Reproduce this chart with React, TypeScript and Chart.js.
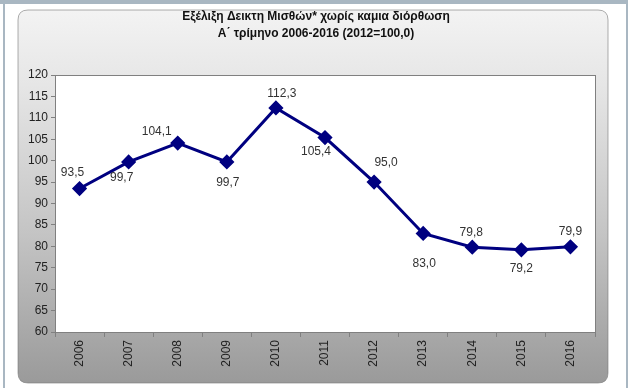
import React, { useEffect, useRef } from "react";
import { Chart, registerables } from "chart.js";

Chart.register(...registerables);

const TITLE_LINES = [
  "Εξέλιξη Δεικτη Μισθών* χωρίς καμια διόρθωση",
  "Α΄ τρίμηνο 2006-2016 (2012=100,0)",
];
const YEARS = ["2006", "2007", "2008", "2009", "2010", "2011", "2012", "2013", "2014", "2015", "2016"];
const WAGE_INDEX = [93.5, 99.7, 104.1, 99.7, 112.3, 105.4, 95.0, 83.0, 79.8, 79.2, 79.9];
const Y_MIN = 60;
const Y_MAX = 120;
const Y_STEP = 5;

// label placement offsets (style only)
const LABEL_OFFSETS: [number, number][] = [
  [-7, -16], [-7, 16], [-21, -11], [1, 21], [6, -14], [-9, 14],
  [12, -19], [1, 30], [-1, -15], [0, 19], [0, -15],
];

const FONT = "'Liberation Sans', Arial, sans-serif";

const backgroundPlugin = {
  id: "bgPlugin",
  beforeDraw(chart: any) {
    const ctx = chart.ctx;
    const W = chart.width;
    const H = chart.height;
    ctx.save();
    ctx.fillStyle = "#ffffff";
    ctx.fillRect(0, 0, W, H);
    // outer frame
    ctx.fillStyle = "#a9b7c2";
    ctx.fillRect(0, 0, 628, 4);
    ctx.fillRect(3, 0, 2, H);
    ctx.fillRect(626, 0, 2, H);
    // rounded panel
    const x0 = 18, y0 = 10, x1 = 608, y1 = 383, r = 10;
    const g = ctx.createLinearGradient(0, y0, 0, y1);
    g.addColorStop(0, "#f3f3f3");
    g.addColorStop(0.2, "#e6e6e6");
    g.addColorStop(0.6, "#c4c4c4");
    g.addColorStop(1, "#9a9a9a");
    ctx.beginPath();
    ctx.moveTo(x0 + r, y0);
    ctx.lineTo(x1 - r, y0);
    ctx.quadraticCurveTo(x1, y0, x1, y0 + r);
    ctx.lineTo(x1, y1 - r);
    ctx.quadraticCurveTo(x1, y1, x1 - r, y1);
    ctx.lineTo(x0 + r, y1);
    ctx.quadraticCurveTo(x0, y1, x0, y1 - r);
    ctx.lineTo(x0, y0 + r);
    ctx.quadraticCurveTo(x0, y0, x0 + r, y0);
    ctx.closePath();
    ctx.fillStyle = g;
    ctx.fill();
    ctx.strokeStyle = "rgba(120,120,120,0.6)";
    ctx.lineWidth = 1;
    ctx.stroke();
    // plot area
    const a = chart.chartArea;
    ctx.fillStyle = "#ffffff";
    ctx.fillRect(a.left, a.top, a.right - a.left, a.bottom - a.top);
    ctx.strokeStyle = "#808080";
    ctx.lineWidth = 1;
    ctx.strokeRect(Math.round(a.left) + 0.5, Math.round(a.top) + 0.5, Math.round(a.right - a.left), Math.round(a.bottom - a.top));
    // title
    ctx.fillStyle = "#111111";
    ctx.font = `bold 12px ${FONT}`;
    ctx.textAlign = "center";
    ctx.textBaseline = "middle";
    ctx.fillText(TITLE_LINES[0], 316, 17);
    ctx.fillText(TITLE_LINES[1], 316, 34);
    ctx.restore();
  },
  afterDatasetsDraw(chart: any) {
    const ctx = chart.ctx;
    const meta = chart.getDatasetMeta(0);
    ctx.save();
    ctx.fillStyle = "#333333";
    ctx.font = `12px ${FONT}`;
    ctx.textAlign = "center";
    ctx.textBaseline = "middle";
    meta.data.forEach((pt: any, i: number) => {
      const v = WAGE_INDEX[i];
      const [dx, dy] = LABEL_OFFSETS[i];
      ctx.fillText(v.toFixed(1).replace(".", ","), pt.x + dx, pt.y + dy);
    });
    ctx.restore();
  },
};

export default function App() {
  const ref = useRef<HTMLCanvasElement | null>(null);
  useEffect(() => {
    if (!ref.current) return;
    const chart = new Chart(ref.current, {
      type: "line",
      data: {
        labels: YEARS,
        datasets: [
          {
            data: WAGE_INDEX,
            borderColor: "#000080",
            backgroundColor: "#000080",
            borderWidth: 3,
            pointStyle: "rectRot",
            pointRadius: 5.5,
            pointBackgroundColor: "#000080",
            pointBorderColor: "#000080",
            tension: 0,
          },
        ],
      },
      options: {
        responsive: false,
        animation: false,
        layout: { padding: { top: 75, right: 43, left: 0, bottom: 0 } },
        plugins: {
          legend: { display: false },
          title: { display: false },
          tooltip: { enabled: false },
        },
        scales: {
          x: {
            offset: true,
            afterFit(scale: any) {
              scale.height = 56;
            },
            grid: {
              offset: true,
              drawOnChartArea: false,
              drawTicks: true,
              tickLength: 5,
              color: "#808080",
            },
            border: { display: true, color: "#808080" },
            ticks: {
              minRotation: 90,
              maxRotation: 90,
              padding: 3,
              color: "#222222",
              font: { family: FONT, size: 12 },
            },
          },
          y: {
            min: Y_MIN,
            max: Y_MAX,
            afterFit(scale: any) {
              scale.width = 55;
            },
            grid: {
              drawOnChartArea: false,
              drawTicks: true,
              tickLength: 4,
              color: "#808080",
            },
            border: { display: true, color: "#808080" },
            ticks: {
              stepSize: Y_STEP,
              padding: 3,
              color: "#222222",
              font: { family: FONT, size: 12 },
            },
          },
        },
      },
      plugins: [backgroundPlugin],
    } as any);
    return () => chart.destroy();
  }, []);
  return (
    <div style={{ position: "absolute", left: 0, top: 0, width: 638, height: 388 }}>
      <canvas ref={ref} width={638} height={388} />
    </div>
  );
}
